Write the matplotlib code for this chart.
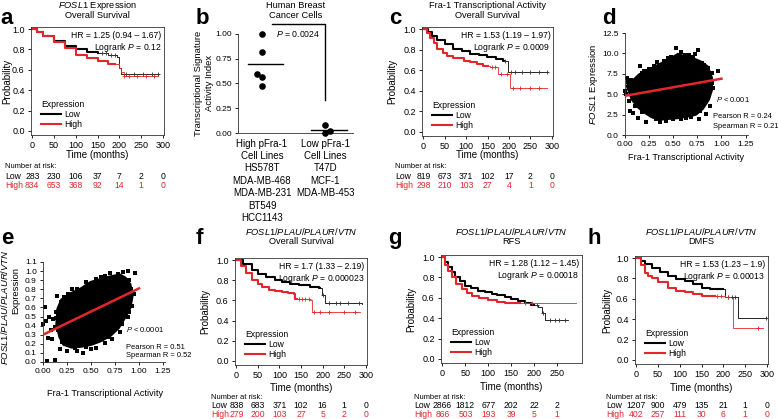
import matplotlib
matplotlib.use('Agg')
import matplotlib.pyplot as plt
from matplotlib.lines import Line2D
from matplotlib.transforms import blended_transform_factory
import numpy as np

plt.rcParams['font.family'] = ['Liberation Sans', 'DejaVu Sans']
plt.rcParams['mathtext.fontset'] = 'custom'
plt.rcParams['mathtext.rm'] = 'Liberation Sans'
plt.rcParams['mathtext.it'] = 'Liberation Sans:italic'
plt.rcParams['mathtext.bf'] = 'Liberation Sans:bold'

# ---------------- data ----------------
# panel a: FOSL1 expression, overall survival
a_low_t = [0, 10, 25, 50, 75, 100, 125, 150, 175, 196, 200, 205, 292]
a_low_s = [1.0, 0.97, 0.93, 0.88, 0.83, 0.80, 0.775, 0.76, 0.75, 0.73, 0.62, 0.555, 0.555]
a_high_t = [0, 10, 25, 50, 75, 100, 125, 150, 175, 200, 205, 210, 290]
a_high_s = [1.0, 0.97, 0.93, 0.87, 0.81, 0.75, 0.72, 0.69, 0.66, 0.62, 0.58, 0.535, 0.535]
a_cut = [150, 190]
a_low_cens = [160, 170, 182, 190, 215, 235, 255, 275, 290]
a_high_cens = [212, 222, 240, 262, 280]
a_risk_low = [283, 230, 106, 37, 7, 2, 0]
a_risk_high = [834, 653, 368, 92, 14, 1, 0]

# panel b: transcriptional signature activity index
b_groups = ['High pFra-1\nCell Lines\nHS578T\nMDA-MB-468\nMDA-MB-231\nBT549\nHCC1143',
            'Low pFra-1\nCell Lines\nT47D\nMCF-1\nMDA-MB-453']
b_high = [1.00, 0.82, 0.60, 0.57, 0.47]
b_low = [0.08, 0.00, 0.02]

# panel c: Fra-1 transcriptional activity, overall survival
c_low_t = [0, 10, 20, 32, 50, 70, 90, 109, 130, 148, 170, 187, 198, 291]
c_low_s = [1.0, 0.97, 0.93, 0.89, 0.85, 0.81, 0.785, 0.76, 0.745, 0.73, 0.71, 0.69, 0.585, 0.585]
c_high_t = [0, 8, 16, 25, 32, 45, 55, 70, 94, 109, 125, 140, 155, 175, 202, 290]
c_high_s = [1.0, 0.96, 0.91, 0.86, 0.81, 0.77, 0.74, 0.715, 0.69, 0.68, 0.665, 0.64, 0.635, 0.56, 0.43, 0.43]
c_cut = [190, 150]
c_low_cens = [192, 205, 215, 230, 250, 270, 290]
c_high_cens = [160, 168, 182, 195, 210, 225, 250, 270]
c_risk_low = [819, 673, 371, 102, 17, 2, 0]
c_risk_high = [298, 210, 103, 27, 4, 1, 0]

# panel d: FOSL1 vs Fra-1 activity
d_cloud_x = [0.03, 0.08, 0.15, 0.22, 0.30, 0.40, 0.48, 0.55, 0.62, 0.70, 0.78, 0.85, 0.89, 0.89,
             0.86, 0.80, 0.73, 0.65, 0.55, 0.45, 0.36, 0.28, 0.20, 0.14, 0.08]
d_cloud_y = [6.0, 6.5, 7.3, 7.8, 8.2, 8.8, 9.3, 9.8, 9.5, 9.3, 8.9, 8.3, 7.0, 5.5,
             4.4, 3.3, 2.6, 2.4, 2.2, 2.1, 2.0, 2.3, 2.9, 3.5, 4.4]
d_pts_x = [0.00, 0.01, 0.02, 0.06, 0.04, 0.05, 0.08, 0.10, 0.13, 0.12, 0.16, 0.20, 0.22, 0.27, 0.30,
           0.36, 0.42, 0.40, 0.48, 0.53, 0.58, 0.62, 0.68, 0.70, 0.76, 0.77, 0.80, 0.84, 0.88, 0.86,
           0.91, 0.90, 0.96, 0.74, 0.83,
           0.18, 0.25, 0.33, 0.45, 0.58, 0.66, 0.73, 0.82, 0.90, 0.87, 0.78, 0.63, 0.50, 0.32,
           0.18, 0.10, 0.06, 0.03]
d_pts_y = [5.4, 5.0, 7.0, 6.8, 4.2, 2.9, 2.7, 3.6, 2.1, 6.4, 8.4, 7.8, 1.6, 2.5, 8.4,
           1.6, 1.7, 9.1, 9.6, 10.7, 1.9, 9.8, 2.2, 9.5, 10.4, 2.0, 8.8, 2.6, 3.6, 8.2,
           5.7, 7.6, 7.9, 3.0, 4.2,
           7.6, 8.1, 8.9, 9.4, 10.2, 9.8, 9.9, 8.6, 6.4, 4.9, 3.0, 2.1, 2.0, 1.9,
           2.8, 4.5, 5.8, 6.5]
d_fit_x = [0.0, 1.0]
d_fit_y = [4.8, 6.9]

# panel e: FOSL1/PLAU/PLAUR/VTN vs Fra-1 activity
e_cloud_x = [0.16, 0.20, 0.30, 0.40, 0.50, 0.60, 0.70, 0.80, 0.85, 0.90, 0.92, 0.90, 0.85, 0.78,
             0.70, 0.60, 0.50, 0.40, 0.30, 0.22, 0.18, 0.15]
e_cloud_y = [0.58, 0.68, 0.75, 0.80, 0.87, 0.90, 0.93, 0.95, 0.92, 0.85, 0.72, 0.60, 0.50, 0.38,
             0.30, 0.24, 0.20, 0.18, 0.17, 0.20, 0.28, 0.42]
e_pts_x = [0.00, 0.02, 0.04, 0.12, 0.05, 0.09, 0.15, 0.18, 0.96, 0.88, 0.83, 0.93, 0.88, 0.65,
           0.55, 0.35, 0.10, 0.06, 0.03, 0.12, 0.25, 0.42, 0.72, 0.80, 0.92, 0.70, 0.60, 0.45,
           0.30, 0.22, 0.14, 0.08, 0.50, 0.28,
           0.19, 0.26, 0.35, 0.55, 0.65, 0.78, 0.90, 0.95, 0.90, 0.82, 0.68, 0.45, 0.33, 0.20,
           0.16, 0.14]
e_pts_y = [0.42, 0.60, 0.01, 0.02, 0.26, 0.25, 0.73, 0.14, 0.98, 1.00, 0.99, 0.62, 0.50, 0.21,
           0.15, 0.12, 0.47, 0.50, 0.45, 0.38, 0.12, 0.10, 0.25, 0.33, 0.80, 0.98, 0.93, 0.88,
           0.80, 0.72, 0.55, 0.35, 0.14, 0.20,
           0.66, 0.75, 0.80, 0.91, 0.95, 0.97, 0.90, 0.75, 0.55, 0.42, 0.27, 0.17, 0.15, 0.22,
           0.35, 0.48]
e_fit_x = [0.0, 1.0]
e_fit_y = [0.30, 0.81]

# panel f: FOSL1/PLAU/PLAUR/VTN overall survival
f_low_t = [0, 15, 37, 50, 68, 90, 106, 125, 145, 170, 191, 198, 206, 291]
f_low_s = [1.0, 0.96, 0.90, 0.865, 0.835, 0.805, 0.785, 0.765, 0.75, 0.735, 0.72, 0.65, 0.57, 0.56]
f_high_t = [0, 10, 22, 37, 50, 60, 75, 90, 106, 120, 133, 137, 172, 175, 287]
f_high_s = [1.0, 0.94, 0.87, 0.80, 0.76, 0.73, 0.70, 0.69, 0.686, 0.675, 0.66, 0.61, 0.60, 0.49, 0.49]
f_cut = [195, 140]
f_low_cens = [200, 215, 230, 240, 260, 285]
f_high_cens = [145, 152, 160, 168, 180, 195, 215, 250, 275]
f_risk_low = [838, 683, 371, 102, 16, 1, 0]
f_risk_high = [279, 200, 103, 27, 5, 2, 0]

# panel g: RFS
g_low_t = [0, 6, 13, 20, 27, 38, 49, 63, 78, 92, 107, 120, 136, 150, 165, 180, 194, 209, 217, 223, 274]
g_low_s = [1.0, 0.95, 0.90, 0.85, 0.80, 0.76, 0.72, 0.695, 0.67, 0.655, 0.64, 0.625, 0.61, 0.59,
           0.565, 0.545, 0.53, 0.51, 0.45, 0.38, 0.38]
g_high_t = [0, 6, 13, 20, 30, 42, 53, 64, 80, 100, 118, 136, 155, 172, 290]
g_high_s = [1.0, 0.92, 0.86, 0.80, 0.74, 0.69, 0.65, 0.62, 0.595, 0.575, 0.56, 0.55, 0.548, 0.545, 0.545]
g_cut = [200, 170]
g_low_cens = [205, 220, 235, 245, 255, 268]
g_high_cens = [180, 195]
g_risk_low = [2866, 1812, 677, 202, 22, 2]
g_risk_high = [866, 503, 193, 39, 5, 1]

# panel h: DMFS
h_low_t = [0, 10, 20, 35, 55, 73, 92, 112, 130, 150, 170, 188, 205, 235, 300]
h_low_s = [1.0, 0.97, 0.94, 0.90, 0.86, 0.82, 0.79, 0.77, 0.745, 0.705, 0.70, 0.695, 0.62, 0.41, 0.41]
h_high_t = [0, 10, 19, 27, 35, 50, 73, 92, 112, 130, 150, 180, 204, 222, 292]
h_high_s = [1.0, 0.93, 0.85, 0.82, 0.80, 0.76, 0.705, 0.68, 0.665, 0.645, 0.63, 0.625, 0.62, 0.31, 0.31]
h_cut = [200, 180]
h_low_cens = [210, 220, 228, 298]
h_high_cens = [185, 195, 210, 280]
h_risk_low = [1207, 900, 479, 135, 21, 1, 0]
h_risk_high = [402, 257, 111, 30, 6, 1, 0]

# ---------------- figure ----------------
W, H = 778, 419
RED = '#e3262b'
fig = plt.figure(figsize=(W / 100, H / 100), dpi=100)


def px_axes(x0, y0, x1, y1):
    return fig.add_axes([x0 / W, 1 - y1 / H, (x1 - x0) / W, (y1 - y0) / H])


def ftext(x, y, s, **kw):
    kw.setdefault('ha', 'center')
    kw.setdefault('va', 'center')
    fig.text(x / W, 1 - y / H, s, **kw)


def style_ticks(ax, size=6.5):
    ax.tick_params(direction='out', length=2.5, width=0.6, labelsize=size, pad=2)
    for sp in ax.spines.values():
        sp.set_linewidth(0.6)
        sp.set_color('#333333')


def step_split(ax, t, s, cut, color):
    t = np.asarray(t, float)
    s = np.asarray(s, float)
    s_cut = s[np.searchsorted(t, cut, side='right') - 1]
    m = t < cut
    ax.step(np.append(t[m], cut), np.append(s[m], s_cut), where='post', color=color, lw=1.5)
    m2 = t > cut
    ax.step(np.concatenate([[cut], t[m2]]), np.concatenate([[s_cut], s[m2]]),
            where='post', color=color, lw=0.6)


def censor(ax, t, s, times, color):
    t = np.asarray(t, float)
    s = np.asarray(s, float)
    ys = s[np.searchsorted(t, times, side='right') - 1]
    ax.plot(times, ys, '+', color=color, ms=3, mew=0.6, ls='none')


def km_panel(box, low, high, cuts, cens, hr, p, risk, xticks, title, letter,
             ylab_x, rows_y, time_y, risk_x):
    x0, y0, x1, y1 = box
    ax = px_axes(x0, y0, x1, y1)
    step_split(ax, low[0], low[1], cuts[0], 'black')
    step_split(ax, high[0], high[1], cuts[1], RED)
    censor(ax, low[0], low[1], cens[0], '#333333')
    censor(ax, high[0], high[1], cens[1], RED)
    ax.set_xlim(-3, 303 if xticks[-1] == 300 else 304)
    ax.set_ylim(-0.04, 1.02)
    ax.set_xticks(xticks)
    ax.set_yticks([0, 0.2, 0.4, 0.6, 0.8, 1.0])
    ax.set_yticklabels(['0.0', '0.2', '0.4', '0.6', '0.8', '1.0'])
    style_ticks(ax)
    ax.text(0.98, 0.965, hr, transform=ax.transAxes, ha='right', va='top', fontsize=6.2)
    ax.text(0.98, 0.87, r'Logrank $\it{P}$ = ' + p, transform=ax.transAxes,
            ha='right', va='top', fontsize=6.2)
    handles = [Line2D([], [], color='black', lw=1.5), Line2D([], [], color=RED, lw=1.5)]
    ax.legend(handles, ['Low', 'High'], title='Expression', loc='lower left',
              bbox_to_anchor=(0.03, 0.0), frameon=False, fontsize=6.2, title_fontsize=6.2,
              handlelength=2.3, handletextpad=0.4, labelspacing=0.1, alignment='left',
              borderpad=0.2)
    cx = (x0 + x1) / 2
    ftext(cx, title[2], title[0], fontsize=6.7)
    ftext(cx, title[2] + 10, title[1], fontsize=6.7)
    ftext(letter[1], letter[2], letter[0], fontsize=16, fontweight='bold')
    ftext(ylab_x, (y0 + y1) / 2, 'Probability', rotation=90, fontsize=7)
    ftext(cx, time_y, 'Time (months)', fontsize=7)
    tr = blended_transform_factory(ax.transData, fig.transFigure)
    ftext(risk_x, rows_y[0], 'Number at risk:', fontsize=5.4, ha='left')
    ftext(risk_x, rows_y[1], 'Low', fontsize=6.2, ha='left')
    ftext(risk_x, rows_y[2], 'High', fontsize=6.2, ha='left', color=RED)
    for xt, nl, nh in zip(xticks, risk[0], risk[1]):
        ax.text(xt, 1 - rows_y[1] / H, str(nl), transform=tr, ha='center', va='center',
                fontsize=6.2, clip_on=False)
        ax.text(xt, 1 - rows_y[2] / H, str(nh), transform=tr, ha='center', va='center',
                fontsize=6.2, color=RED, clip_on=False)
    return ax


t300 = [0, 50, 100, 150, 200, 250, 300]
t250 = [0, 50, 100, 150, 200, 250]

km_panel((31, 27, 164, 135), (a_low_t, a_low_s), (a_high_t, a_high_s), a_cut,
         (a_low_cens, a_high_cens), 'HR = 1.25 (0.94 \u2013 1.67)', '0.12',
         (a_risk_low, a_risk_high), t300,
         (r'$\it{FOSL1}$ Expression', 'Overall Survival', 5.5), ('a', 7, 18),
         7, (167, 176, 185), 155, 5)

km_panel((422, 27, 553, 136), (c_low_t, c_low_s), (c_high_t, c_high_s), c_cut,
         (c_low_cens, c_high_cens), 'HR = 1.53 (1.19 \u2013 1.97)', '0.0009',
         (c_risk_low, c_risk_high), t300,
         ('Fra-1 Transcriptional Activity', 'Overall Survival', 5.5), ('c', 395, 18),
         392, (167, 176, 185), 155, 395)

km_panel((235, 258, 367, 365), (f_low_t, f_low_s), (f_high_t, f_high_s), f_cut,
         (f_low_cens, f_high_cens), 'HR = 1.7 (1.33 \u2013 2.19)', '0.000023',
         (f_risk_low, f_risk_high), t300,
         (r'$\it{FOSL1/PLAU/PLAUR/VTN}$', 'Overall Survival', 231), ('f', 199, 238),
         205, (397, 405, 414), 388, 211)

km_panel((441, 255, 582, 363), (g_low_t, g_low_s), (g_high_t, g_high_s), g_cut,
         (g_low_cens, g_high_cens), 'HR = 1.28 (1.12 \u2013 1.45)', '0.00018',
         (g_risk_low, g_risk_high), t250,
         (r'$\it{FOSL1/PLAU/PLAUR/VTN}$', 'RFS', 231), ('g', 395, 238),
         411, (397, 405, 414), 387, 414)

km_panel((635, 256, 768, 364), (h_low_t, h_low_s), (h_high_t, h_high_s), h_cut,
         (h_low_cens, h_high_cens), 'HR = 1.53 (1.23 \u2013 1.9)', '0.00013',
         (h_risk_low, h_risk_high), t300,
         (r'$\it{FOSL1/PLAU/PLAUR/VTN}$', 'DMFS', 231), ('h', 594, 238),
         607, (397, 405, 414), 388, 606)

# ---- panel b ----
axb = px_axes(238, 34, 353, 133)
for gi, vals in enumerate([b_high, b_low]):
    vals = np.asarray(vals)
    xs = np.full(len(vals), float(gi))
    # dodge points that sit on top of each other
    order = np.argsort(vals)
    for k in range(1, len(order)):
        if abs(vals[order[k]] - vals[order[k - 1]]) < 0.04 and xs[order[k - 1]] == gi:
            xs[order[k]] = gi - 0.08 if gi == 0 else gi + 0.08
    axb.scatter(xs, vals, s=14, color='black', zorder=3, clip_on=False)
    m = vals.mean()
    axb.plot([gi - 0.22, gi + 0.34], [m, m], color='black', lw=1.0)
axb.set_xlim(-0.38, 1.44)
axb.set_ylim(0, 1.0)
axb.set_yticks([0, 0.25, 0.5, 0.75, 1.0])
axb.set_yticklabels(['0.00', '0.25', '0.50', '0.75', '1.00'])
axb.set_xticks([0, 1])
axb.set_xticklabels(b_groups, fontsize=7, linespacing=1.3)
style_ticks(axb, 6)
axb.tick_params(axis='x', length=0, pad=4, labelsize=7)
axb.spines['top'].set_visible(False)
axb.spines['right'].set_visible(False)
axb.plot([0.16, 1.0, 1.0], [1.097, 1.097, 0.334], color='black', lw=1.0, clip_on=False)
axb.text(0.57, 1.0, r'$\it{P}$ = 0.0024', ha='center', va='center', fontsize=6.3)
ftext(295.5, 5.5, 'Human Breast', fontsize=6.7)
ftext(295.5, 15.5, 'Cancer Cells', fontsize=6.7)
ftext(202, 18, 'b', fontsize=16, fontweight='bold')
ftext(199, 83, 'Transcriptional Signature', rotation=90, fontsize=6.8)
ftext(209, 83, 'Activity Index', rotation=90, fontsize=6.8)


# ---- scatter panels d, e ----
def scatter_panel(box, cloud, pts, fit, xlim, ylim, yticks, yfmt, stats, stat_pos):
    x0, y0, x1, y1 = box
    ax = px_axes(x0, y0, x1, y1)
    ax.fill(cloud[0], cloud[1], color='black', lw=3, zorder=2)
    ax.scatter(pts[0], pts[1], marker='s', s=9, color='black', lw=0, zorder=2, clip_on=False)
    ax.plot(fit[0], fit[1], color=RED, lw=1.8, zorder=3)
    ax.set_xlim(*xlim)
    ax.set_ylim(*ylim)
    ax.set_xticks([0, 0.25, 0.5, 0.75, 1.0, 1.25])
    ax.set_xticklabels(['0.00', '0.25', '0.50', '0.75', '1.00', '1.25'])
    ax.set_yticks(yticks)
    ax.set_yticklabels([yfmt % v for v in yticks])
    style_ticks(ax, 6)
    ax.spines['top'].set_visible(False)
    ax.spines['right'].set_visible(False)
    for (sx, sy, s) in zip(stat_pos[0], stat_pos[1], stats):
        ftext(sx, sy, s, fontsize=5.4, ha='left')
    return ax


scatter_panel((625, 33, 748, 135), (d_cloud_x, d_cloud_y), (d_pts_x, d_pts_y), (d_fit_x, d_fit_y),
              (0, 1.275), (0, 12.5), [0, 2.5, 5.0, 7.5, 10.0, 12.5], '%.1f',
              [r'$\it{P}$ < 0.001', 'Pearson R = 0.24', 'Spearman R = 0.21'],
              ([716, 713, 713], [99, 117, 126]))
ftext(686, 157, 'Fra-1 Transcriptional Activity', fontsize=6.6)
ftext(593, 84, r'$\it{FOSL1}$ Expression', rotation=90, fontsize=6.8)
ftext(609, 18, 'd', fontsize=16, fontweight='bold')

scatter_panel((43, 262, 165, 362), (e_cloud_x, e_cloud_y), (e_pts_x, e_pts_y), (e_fit_x, e_fit_y),
              (0, 1.27), (0, 1.1), [round(0.1 * i, 1) for i in range(12)], '%.1f',
              [r'$\it{P}$ < 0.0001', 'Pearson R = 0.51', 'Spearman R = 0.52'],
              ([126, 126, 126], [329, 347, 355]))
ftext(105, 393, 'Fra-1 Transcriptional Activity', fontsize=6.6)
ftext(5, 307, r'$\it{FOSL1/PLAU/PLAUR/VTN}$', rotation=90, fontsize=6.8)
ftext(15.5, 290, 'Expression', rotation=90, fontsize=6.8)
ftext(7, 238, 'e', fontsize=16, fontweight='bold')

fig.savefig('out.png', dpi=100)
